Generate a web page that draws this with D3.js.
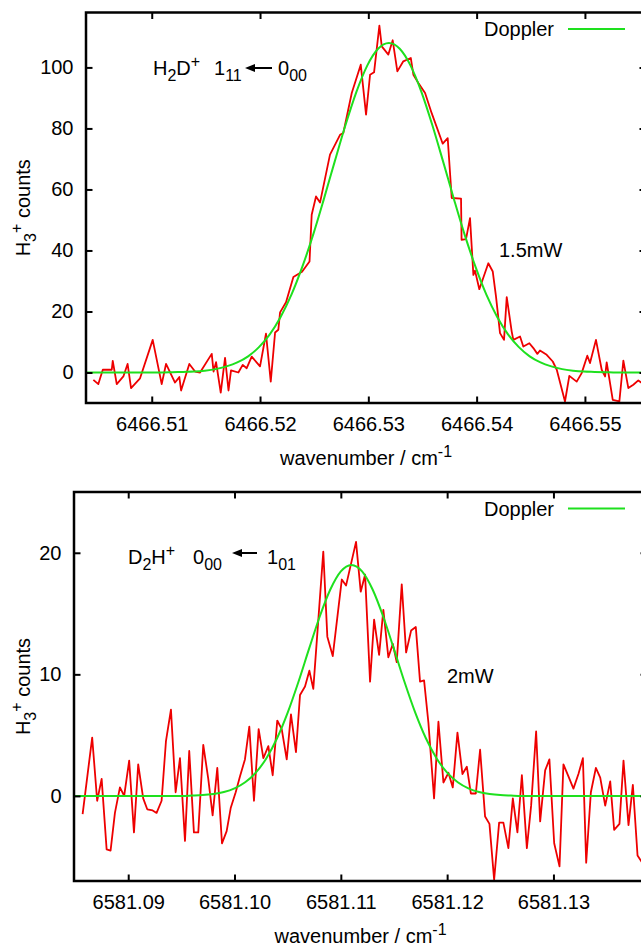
<!DOCTYPE html>
<html>
<head>
<meta charset="utf-8">
<script src="https://cdnjs.cloudflare.com/ajax/libs/d3/7.8.5/d3.min.js"></script>
<style>
  body { margin: 0; background: #fff; }
  svg { display: block; }
  text { font-family: "Liberation Sans", Arial, Helvetica, sans-serif; font-size: 20px; fill: #000; }
</style>
</head>
<body>
<div id="chart"></div>
<script>
// ---- top panel: H2D+ line ----
const topWave = [
  6466.50461, 6466.50507, 6466.50548, 6466.50631, 6466.50640, 6466.50677, 6466.50738, 6466.50777, 6466.50809, 6466.50892,
  6466.51009, 6466.51092, 6466.51132, 6466.51215, 6466.51255, 6466.51271, 6466.51347, 6466.51400, 6466.51446, 6466.51554,
  6466.51571, 6466.51594, 6466.51637, 6466.51677, 6466.51709, 6466.51732, 6466.51800, 6466.51840, 6466.51877, 6466.51923,
  6466.52000, 6466.52055, 6466.52099, 6466.52139, 6466.52169, 6466.52185, 6466.52240, 6466.52308, 6466.52388, 6466.52457,
  6466.52477, 6466.52517, 6466.52554, 6466.52646, 6466.52739, 6466.52769, 6466.52847, 6466.52930, 6466.52979, 6466.53016,
  6466.53053, 6466.53102, 6466.53124, 6466.53185, 6466.53225, 6466.53268, 6466.53323, 6466.53392, 6466.53416, 6466.53462,
  6466.53524, 6466.53585, 6466.53687, 6466.53733, 6466.53770, 6466.53856, 6466.53861, 6466.53902, 6466.53939, 6466.53970,
  6466.53985, 6466.54025, 6466.54108, 6466.54149, 6466.54179, 6466.54216, 6466.54253, 6466.54278, 6466.54324, 6466.54339,
  6466.54401, 6466.54431, 6466.54487, 6466.54524, 6466.54561, 6466.54585, 6466.54647, 6466.54703, 6466.54740, 6466.54816,
  6466.54856, 6466.54924, 6466.54970, 6466.55022, 6466.55047, 6466.55102, 6466.55155, 6466.55186, 6466.55201, 6466.55257,
  6466.55318, 6466.55355, 6466.55401, 6466.55447, 6466.55493, 6466.55546
];
const topCounts = [
  -2.4, -3.8, 0.9, 0.9, 3.8, -3.8, -1.3, 2.8, -5.1, -1.9,
  10.7, -3.8, 2.8, -3.3, -1.5, -5.9, 2.8, 0.3, 0, 6.1,
  0.3, 3.4, -6.6, 4.8, -5.9, 0.7, 0, 2.5, 1.4, 5.2,
  2, 12.7, -3, 13.1, 14, 19.7, 23, 31.3, 33, 36.4,
  51.7, 57.7, 55.7, 71.4, 77.9, 78.5, 91.6, 100.9, 84.5, 97.6,
  98.4, 113.7, 106.9, 104.2, 108.9, 98.7, 102, 103.1, 97.6, 94.9,
  91.6, 85, 75, 76.8, 57.2, 57, 43.5, 43.7, 50.6, 32,
  33.4, 27.3, 35.8, 33.1, 24.9, 12.9, 10.7, 24.7, 13.4, 10.7,
  11.8, 8.5, 9.6, 8, 6.1, 7.2, 5.8, 3.6, 0.9, -9.5,
  -1.1, -3, -0.2, 5.5, 3.1, 10.7, 0.9, -1.3, 3.3, -9,
  -9.5, 3.9, -5.1, -4, -2.6, -4
];
// Doppler profile
const topFitWave = [
  6466.5039, 6466.5049, 6466.5059, 6466.5069, 6466.5079, 6466.5089, 6466.5099, 6466.5109, 6466.5119, 6466.5129,
  6466.5139, 6466.5149, 6466.5159, 6466.5169, 6466.5179, 6466.5189, 6466.5199, 6466.5209, 6466.5219, 6466.5229,
  6466.5239, 6466.5249, 6466.5259, 6466.5269, 6466.5279, 6466.5289, 6466.5299, 6466.5309, 6466.5319, 6466.5329,
  6466.5339, 6466.5349, 6466.5359, 6466.5369, 6466.5379, 6466.5389, 6466.5399, 6466.5409, 6466.5419, 6466.5429,
  6466.5439, 6466.5449, 6466.5459, 6466.5469, 6466.5479, 6466.5489, 6466.5499, 6466.5509, 6466.5519, 6466.5529,
  6466.5539, 6466.5549, 6466.5559
];
const topFitCounts = [
  0, 0, 0, 0, 0, 0, 0, 0, 0.1, 0.2,
  0.3, 0.6, 1.1, 2.0, 3.3, 5.3, 8.3, 12.5, 18.2, 25.5,
  34.6, 45.1, 56.9, 69.2, 81.2, 92.0, 100.6, 106.1, 108, 106.1,
  100.6, 92.0, 81.2, 69.2, 56.9, 45.1, 34.6, 25.5, 18.2, 12.5,
  8.3, 5.3, 3.3, 2.0, 1.1, 0.6, 0.3, 0.2, 0.1, 0,
  0, 0, 0
];
const topXTicks = [6466.51, 6466.52, 6466.53, 6466.54, 6466.55];
const topYTicks = [0, 20, 40, 60, 80, 100];

// ---- bottom panel: D2H+ line ----
const botWave = [
  6581.08571, 6581.08661, 6581.08708, 6581.08750, 6581.08797, 6581.08834, 6581.08875, 6581.08922, 6581.08962, 6581.09009,
  6581.09054, 6581.09094, 6581.09141, 6581.09179, 6581.09230, 6581.09267, 6581.09314, 6581.09355, 6581.09402, 6581.09446,
  6581.09487, 6581.09534, 6581.09574, 6581.09618, 6581.09659, 6581.09706, 6581.09753, 6581.09794, 6581.09838, 6581.09882,
  6581.09926, 6581.09964, 6581.10011, 6581.10051, 6581.10098, 6581.10139, 6581.10183, 6581.10227, 6581.10271, 6581.10318,
  6581.10359, 6581.10402, 6581.10444, 6581.10491, 6581.10531, 6581.10578, 6581.10616, 6581.10663, 6581.10704, 6581.10741,
  6581.10835, 6581.10873, 6581.10924, 6581.11009, 6581.11049, 6581.11143, 6581.11187, 6581.11228, 6581.11275, 6581.11313,
  6581.11360, 6581.11400, 6581.11447, 6581.11489, 6581.11526, 6581.11573, 6581.11614, 6581.11661, 6581.11705, 6581.11745,
  6581.11783, 6581.11824, 6581.11877, 6581.11918, 6581.11965, 6581.12012, 6581.12053, 6581.12097, 6581.12144, 6581.12185,
  6581.12223, 6581.12270, 6581.12310, 6581.12357, 6581.12398, 6581.12442, 6581.12489, 6581.12529, 6581.12576, 6581.12618,
  6581.12661, 6581.12703, 6581.12750, 6581.12790, 6581.12837, 6581.12875, 6581.12922, 6581.12962, 6581.13007, 6581.13057,
  6581.13094, 6581.13141, 6581.13188, 6581.13235, 6581.13277, 6581.13308, 6581.13352, 6581.13399, 6581.13440, 6581.13487,
  6581.13534, 6581.13571, 6581.13621, 6581.13659, 6581.13706, 6581.13747, 6581.13791, 6581.13835
];
const botCounts = [
  -1.5, 4.8, -0.4, 1.4, -4.4, -4.5, -1.4, 0.7, 0, 2.9,
  -3, 2.6, -0.2, -1.1, -1.2, -1.4, -0.4, 4.5, 7.1, 0.3,
  3.1, -3.7, 3.7, -3, -3, 4.2, 1.4, -1.6, 2.3, -3.9,
  -2.9, -1, 0.3, 1.6, 3, 5.7, -0.4, 5.5, 3.1, 4.1,
  1.7, 6.2, 5.5, 3, 6.7, 3.6, 8.3, 9.0, 10.3, 8.8,
  20.1, 13.1, 11.5, 17.8, 17.3, 20.9, 16.8, 18.2, 9.4, 14.5,
  11.6, 15.3, 11.4, 12.5, 11, 17.4, 11.8, 13.6, 13.9, 9.4,
  9.5, 6, -0.2, 6.1, 1.1, 1.9, 0.7, 5.2, 1.8, 2.4,
  0.2, 0.2, 3.8, -1.7, -2.3, -6.9, -2.2, -2.2, -4.3, -0.2,
  -3, 1.7, -4.3, -0.8, 5.3, -2.1, 2.1, 3, -3.9, -5.8,
  2.6, 1.6, 0.6, 1.8, 3.1, -5.5, 0.3, 2.3, 1.5, -0.8,
  1.2, -2.8, -2.3, 2.9, -2.4, 0.9, -4.9, -5.5
];
const botFitWave = [
  6581.0850, 6581.0860, 6581.0870, 6581.0880, 6581.0890, 6581.0900, 6581.0910, 6581.0920, 6581.0930, 6581.0940,
  6581.0950, 6581.0960, 6581.0970, 6581.0980, 6581.0990, 6581.1000, 6581.1010, 6581.1020, 6581.1030, 6581.1040,
  6581.1050, 6581.1060, 6581.1070, 6581.1080, 6581.1090, 6581.1100, 6581.1110, 6581.1120, 6581.1130, 6581.1140,
  6581.1150, 6581.1160, 6581.1170, 6581.1180, 6581.1190, 6581.1200, 6581.1210, 6581.1220, 6581.1230, 6581.1240,
  6581.1250, 6581.1260, 6581.1270, 6581.1280, 6581.1290, 6581.1300, 6581.1310, 6581.1320, 6581.1330, 6581.1340,
  6581.1350, 6581.1360, 6581.1370, 6581.1380, 6581.1390
];
const botFitCounts = [
  0, 0, 0, 0, 0, 0, 0, 0, 0, 0,
  0, 0.03, 0.07, 0.16, 0.32, 0.62, 1.12, 1.91, 3.10, 4.74,
  6.85, 9.35, 12.07, 14.72, 16.96, 18.47, 19, 18.47, 16.96, 14.72,
  12.07, 9.35, 6.85, 4.74, 3.10, 1.91, 1.12, 0.62, 0.32, 0.16,
  0.07, 0.03, 0, 0, 0, 0, 0, 0, 0, 0,
  0, 0, 0, 0, 0
];
const botXTicks = [6581.09, 6581.10, 6581.11, 6581.12, 6581.13];
const botYTicks = [0, 10, 20];

const dataColor = "#ee0000";
const fitColor = "#1ee01e";

const svg = d3.select("#chart")
    .append("svg")
    .attr("width", 641)
    .attr("height", 946);

// rich text with sub/superscripts
function rich(sel, parts) {
    let shift = 0;
    parts.forEach(p => {
        const target = p.s === "sub" ? 6 : p.s === "sup" ? -8 : 0;
        sel.append("tspan")
            .attr("dy", target - shift)
            .attr("font-size", p.s ? "16px" : null)
            .text(p.t);
        shift = target;
    });
}

function leftArrow(x1, x2, yy) {
    svg.append("line")
        .attr("x1", x1 + 6).attr("x2", x2)
        .attr("y1", yy).attr("y2", yy)
        .attr("stroke", "#000").attr("stroke-width", 2);
    svg.append("path")
        .attr("d", `M${x1},${yy} L${x1 + 10},${yy - 4} L${x1 + 10},${yy + 4} Z`)
        .attr("fill", "#000");
}

function drawPanel(p) {
    const x = d3.scaleLinear().domain(p.xDomain).range([p.left, p.right]);
    const y = d3.scaleLinear().domain(p.yDomain).range([p.bottom, p.top]);

    svg.append("clipPath").attr("id", p.id + "-clip")
      .append("rect")
        .attr("x", p.left).attr("y", p.top)
        .attr("width", p.right - p.left).attr("height", p.bottom - p.top);

    const plot = svg.append("g").attr("clip-path", `url(#${p.id}-clip)`);
    const line = d3.line().x(d => x(d[0])).y(d => y(d[1]));

    plot.append("path")
        .datum(d3.zip(p.wave, p.counts))
        .attr("d", line)
        .attr("fill", "none")
        .attr("stroke", dataColor)
        .attr("stroke-width", 1.8)
        .attr("stroke-linejoin", "round");

    plot.append("path")
        .datum(d3.zip(p.fitWave, p.fitCounts))
        .attr("d", line.curve(d3.curveMonotoneX))
        .attr("fill", "none")
        .attr("stroke", fitColor)
        .attr("stroke-width", 2);

    // axes, ticks pointing inward on all four sides
    const fmt = d3.format(".2f");
    const axes = [
        svg.append("g").attr("transform", `translate(0,${p.bottom})`)
            .call(d3.axisBottom(x).tickValues(p.xTicks).tickSize(-6.5).tickPadding(14).tickFormat(fmt)),
        svg.append("g").attr("transform", `translate(0,${p.top})`)
            .call(d3.axisTop(x).tickValues(p.xTicks).tickSize(-6.5).tickFormat("")),
        svg.append("g").attr("transform", `translate(${p.left},0)`)
            .call(d3.axisLeft(y).tickValues(p.yTicks).tickSize(-6.5).tickPadding(12.5)),
        svg.append("g").attr("transform", `translate(${p.right},0)`)
            .call(d3.axisRight(y).tickValues(p.yTicks).tickSize(-6.5).tickFormat(""))
    ];
    axes.forEach(a => {
        a.select(".domain").remove();
        a.selectAll(".tick line").attr("stroke", "#000").attr("stroke-width", 2);
        a.selectAll("text").attr("font-size", 20).attr("font-family", null);
    });

    svg.append("rect")
        .attr("x", p.left).attr("y", p.top)
        .attr("width", p.right - p.left).attr("height", p.bottom - p.top)
        .attr("fill", "none")
        .attr("stroke", "#000")
        .attr("stroke-width", 2.5);

    // axis titles
    const xl = svg.append("text")
        .attr("x", (p.left + p.right) / 2)
        .attr("y", p.bottom + 62)
        .attr("text-anchor", "middle");
    rich(xl, [{t: "wavenumber / cm"}, {t: "-1", s: "sup"}]);

    const yl = svg.append("text")
        .attr("transform", `translate(30,${(p.top + p.bottom) / 2}) rotate(-90)`)
        .attr("text-anchor", "middle");
    rich(yl, [{t: "H"}, {t: "3", s: "sub"}, {t: "+", s: "sup"}, {t: " counts"}]);

    // legend
    svg.append("text")
        .attr("x", 554).attr("y", p.top + 23.5)
        .attr("text-anchor", "end")
        .text("Doppler");
    svg.append("line")
        .attr("x1", 568).attr("x2", 625)
        .attr("y1", p.top + 16.5).attr("y2", p.top + 16.5)
        .attr("stroke", fitColor).attr("stroke-width", 2);

    // power label
    svg.append("text")
        .attr("x", p.power.x).attr("y", p.power.y)
        .text(p.power.t);
}

drawPanel({
    id: "top", left: 86, right: 646, top: 12.5, bottom: 403,
    xDomain: [6466.50393, 6466.55564], yDomain: [-10, 118],
    wave: topWave, counts: topCounts, fitWave: topFitWave, fitCounts: topFitCounts,
    xTicks: topXTicks, yTicks: topYTicks,
    power: {t: "1.5mW", x: 499, y: 257}
});

drawPanel({
    id: "bot", left: 74, right: 647, top: 492, bottom: 881,
    xDomain: [6581.0849, 6581.1388], yDomain: [-7, 25],
    wave: botWave, counts: botCounts, fitWave: botFitWave, fitCounts: botFitCounts,
    xTicks: botXTicks, yTicks: botYTicks,
    power: {t: "2mW", x: 447, y: 683}
});

// transition labels
rich(svg.append("text").attr("x", 153).attr("y", 75),
    [{t: "H"}, {t: "2", s: "sub"}, {t: "D"}, {t: "+", s: "sup"}]);
rich(svg.append("text").attr("x", 214).attr("y", 75),
    [{t: "1"}, {t: "11", s: "sub"}]);
leftArrow(245, 272, 68);
rich(svg.append("text").attr("x", 278).attr("y", 75),
    [{t: "0"}, {t: "00", s: "sub"}]);

rich(svg.append("text").attr("x", 128).attr("y", 564),
    [{t: "D"}, {t: "2", s: "sub"}, {t: "H"}, {t: "+", s: "sup"}]);
rich(svg.append("text").attr("x", 193).attr("y", 564),
    [{t: "0"}, {t: "00", s: "sub"}]);
leftArrow(232, 257, 553);
rich(svg.append("text").attr("x", 267).attr("y", 564),
    [{t: "1"}, {t: "01", s: "sub"}]);
</script>
</body>
</html>
